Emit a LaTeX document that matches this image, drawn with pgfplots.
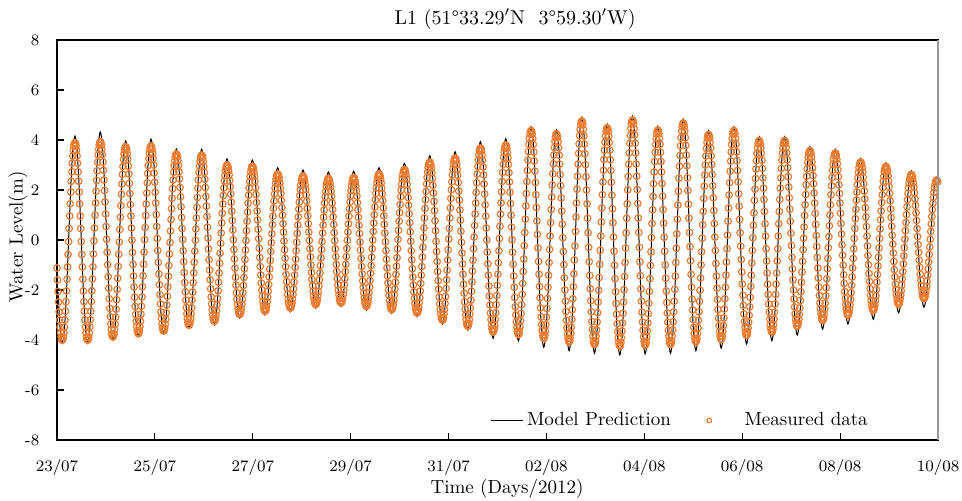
\documentclass[border=0pt]{standalone}
\usepackage{pgfplots}
\pgfplotsset{compat=1.18}
\definecolor{measured}{HTML}{ED7D31}
\begin{document}
\begin{tikzpicture}
\begin{axis}[
  name=ax, at={(0,0)}, anchor=south west,
  scale only axis, width=440.5pt, height=200pt,
  xmin=0, xmax=18, ymin=-8, ymax=8,
  xtick={0,2,...,18},
  xticklabels={23/07,25/07,27/07,29/07,31/07,02/08,04/08,06/08,08/08,10/08},
  ytick={-8,-6,...,8},
  yticklabels={-8,-6,-4,-2,0,2,4,6,8},
  tick align=inside, xtick pos=left, ytick pos=left,
  major tick length=3.5pt,
  tick style={black, line width=0.6pt},
  axis line style={line width=0.6pt},
  xticklabel style={font=\fontsize{8}{9}\selectfont, yshift=-6pt},
  yticklabel style={font=\fontsize{8}{9}\selectfont, xshift=-5.3pt},
  legend style={at={(0.932,0.049)}, anchor=east, draw=none, fill=none,
    font=\fontsize{9.5}{11}\selectfont,
    /tikz/every even column/.append style={column sep=16pt}},
  legend columns=2,
  legend cell align=left,
]
% model prediction, 6 samples per half tide
\addplot[black, line width=0.5pt, smooth,
  legend image code/.code={\draw[black, line width=0.5pt] (0pt,0pt) -- (15.7pt,0pt);}]
  table[header=false, x expr={(4*\coordindex+2)*0.010787}, y index=0] {
-2.09
-3.58
-4.13
-3.58
-2.06
0.02
2.09
3.61
4.16
3.61
2.09
0.02
-2.06
-3.58
-4.13
-3.56
-2.02
0.10
2.21
3.75
4.32
3.76
2.24
0.16
-1.92
-3.44
-4.00
-3.47
-2.01
-0.02
1.98
3.44
3.97
3.45
2.01
0.05
-1.91
-3.35
-3.87
-3.34
-1.89
0.09
2.06
3.51
4.04
3.52
2.09
0.14
-1.81
-3.24
-3.76
-3.26
-1.91
-0.06
1.79
3.14
3.64
3.16
1.85
0.06
-1.74
-3.05
-3.53
-3.05
-1.74
0.05
1.84
3.15
3.63
3.16
1.87
0.12
-1.64
-2.93
-3.40
-2.95
-1.74
-0.08
1.59
2.80
3.25
2.82
1.66
0.06
-1.54
-2.70
-3.13
-2.71
-1.55
0.04
1.62
2.78
3.20
2.79
1.65
0.10
-1.45
-2.59
-3.00
-2.61
-1.53
-0.06
1.42
2.50
2.89
2.50
1.45
0.01
-1.43
-2.48
-2.87
-2.49
-1.45
-0.04
1.38
2.42
2.80
2.43
1.42
0.04
-1.35
-2.36
-2.73
-2.37
-1.37
-0.01
1.36
2.36
2.72
2.36
1.37
0.03
-1.32
-2.31
-2.67
-2.31
-1.32
0.04
1.40
2.39
2.75
2.38
1.36
-0.03
-1.41
-2.43
-2.80
-2.42
-1.38
0.05
1.47
2.51
2.89
2.50
1.44
-0.02
-1.48
-2.54
-2.93
-2.53
-1.43
0.07
1.57
2.67
3.07
2.66
1.54
0.00
-1.54
-2.66
-3.07
-2.64
-1.46
0.15
1.76
2.94
3.37
2.92
1.69
0.01
-1.68
-2.91
-3.36
-2.90
-1.64
0.09
1.81
3.07
3.53
3.05
1.75
-0.04
-1.82
-3.12
-3.60
-3.10
-1.72
0.17
2.05
3.43
3.93
3.40
1.97
0.00
-1.97
-3.40
-3.93
-3.40
-1.94
0.06
2.06
3.52
4.05
3.51
2.03
0.01
-2.01
-3.49
-4.03
-3.46
-1.89
0.25
2.39
3.96
4.53
3.94
2.33
0.12
-2.09
-3.70
-4.29
-3.71
-2.12
0.06
2.23
3.82
4.40
3.81
2.19
-0.02
-2.22
-3.84
-4.43
-3.80
-2.10
0.24
2.58
4.28
4.91
4.28
2.55
0.19
-2.17
-3.90
-4.53
-3.92
-2.24
0.06
2.35
4.03
4.64
4.02
2.33
0.02
-2.29
-3.98
-4.60
-3.96
-2.21
0.18
2.56
4.31
4.95
4.31
2.57
0.20
-2.18
-3.92
-4.56
-3.95
-2.28
-0.01
2.27
3.94
4.55
3.94
2.28
0.01
-2.26
-3.92
-4.53
-3.90
-2.19
0.15
2.49
4.20
4.83
4.21
2.52
0.20
-2.12
-3.81
-4.43
-3.84
-2.23
-0.03
2.17
3.78
4.37
3.79
2.20
0.02
-2.16
-3.75
-4.33
-3.74
-2.12
0.10
2.32
3.94
4.53
3.95
2.36
0.19
-1.99
-3.58
-4.16
-3.61
-2.09
-0.02
2.06
3.58
4.13
3.58
2.09
0.05
-1.99
-3.48
-4.03
-3.48
-1.99
0.05
2.09
3.58
4.13
3.60
2.15
0.17
-1.82
-3.27
-3.80
-3.30
-1.92
-0.04
1.85
3.23
3.73
3.24
1.91
0.08
-1.75
-3.08
-3.57
-3.09
-1.77
0.03
1.83
3.15
3.63
3.16
1.88
0.14
-1.61
-2.89
-3.36
-2.92
-1.70
-0.05
1.61
2.83
3.27
2.84
1.66
0.05
-1.56
-2.74
-3.17
-2.75
-1.61
-0.04
1.53
2.67
3.09
2.69
1.59
0.09
-1.41
-2.51
-2.91
-2.53
-1.49
-0.07
1.35
2.39
2.77
2.40
1.41
0.04
-1.33
-2.32
-2.69
-2.34
-1.39
-0.10
1.20
2.15
2.50
2.17
};
\addlegendentry{Model Prediction}
% measured water level, 24 samples per half tide
\addplot[only marks, mark=o, mark size=1.65pt, color=measured, mark options={line width=0.6pt},
  legend image post style={mark size=1.15pt}]
  table[header=false, x expr={\coordindex*0.010787}, y index=0] {
-1.12
-1.60
-2.06
-2.48
-2.87
-3.20
-3.49
-3.71
-3.88
-3.98
-4.01
-3.98
-3.88
-3.71
-3.48
-3.19
-2.85
-2.47
-2.04
-1.57
-1.08
-0.58
-0.06
0.46
0.96
1.45
1.92
2.35
2.73
3.07
3.36
3.59
3.76
3.86
3.89
3.86
3.76
3.59
3.36
3.07
2.73
2.35
1.92
1.45
0.96
0.46
-0.06
-0.58
-1.08
-1.57
-2.04
-2.47
-2.85
-3.19
-3.48
-3.71
-3.88
-3.98
-4.01
-3.98
-3.88
-3.71
-3.48
-3.19
-2.85
-2.46
-2.03
-1.56
-1.07
-0.56
-0.04
0.48
0.99
1.48
1.95
2.38
2.77
3.11
3.40
3.63
3.80
3.90
3.93
3.90
3.80
3.63
3.41
3.12
2.79
2.40
1.98
1.52
1.04
0.54
0.03
-0.49
-0.99
-1.47
-1.93
-2.35
-2.74
-3.07
-3.36
-3.58
-3.75
-3.85
-3.88
-3.85
-3.75
-3.59
-3.37
-3.09
-2.77
-2.39
-1.98
-1.53
-1.06
-0.57
-0.08
0.42
0.91
1.38
1.83
2.24
2.62
2.94
3.22
3.44
3.60
3.70
3.73
3.70
3.60
3.45
3.23
2.96
2.64
2.27
1.86
1.42
0.96
0.48
-0.01
-0.50
-0.98
-1.44
-1.88
-2.29
-2.66
-2.98
-3.25
-3.47
-3.62
-3.72
-3.75
-3.72
-3.62
-3.46
-3.25
-2.97
-2.65
-2.28
-1.87
-1.43
-0.97
-0.49
0.01
0.50
0.98
1.44
1.88
2.29
2.66
2.98
3.26
3.47
3.63
3.73
3.76
3.73
3.63
3.48
3.26
3.00
2.68
2.31
1.91
1.48
1.02
0.54
0.06
-0.42
-0.90
-1.36
-1.79
-2.19
-2.56
-2.88
-3.14
-3.36
-3.51
-3.61
-3.64
-3.61
-3.52
-3.37
-3.17
-2.91
-2.60
-2.25
-1.87
-1.45
-1.02
-0.56
-0.10
0.36
0.82
1.25
1.67
2.06
2.40
2.71
2.97
3.17
3.32
3.41
3.44
3.41
3.32
3.18
2.98
2.73
2.44
2.10
1.73
1.33
0.90
0.46
0.02
-0.43
-0.87
-1.30
-1.70
-2.07
-2.41
-2.70
-2.95
-3.15
-3.29
-3.38
-3.41
-3.38
-3.29
-3.15
-2.95
-2.71
-2.41
-2.08
-1.71
-1.31
-0.89
-0.45
-0.01
0.44
0.88
1.30
1.70
2.07
2.40
2.70
2.94
3.14
3.28
3.37
3.40
3.37
3.29
3.15
2.95
2.71
2.43
2.10
1.74
1.35
0.94
0.51
0.08
-0.36
-0.79
-1.20
-1.59
-1.95
-2.28
-2.56
-2.80
-3.00
-3.14
-3.22
-3.25
-3.22
-3.14
-3.01
-2.83
-2.60
-2.34
-2.03
-1.69
-1.32
-0.93
-0.53
-0.13
0.28
0.68
1.07
1.44
1.78
2.09
2.36
2.58
2.76
2.89
2.97
3.00
2.97
2.90
2.77
2.60
2.38
2.13
1.83
1.51
1.15
0.78
0.40
0.01
-0.38
-0.76
-1.13
-1.49
-1.81
-2.11
-2.36
-2.58
-2.75
-2.88
-2.95
-2.98
-2.96
-2.88
-2.75
-2.58
-2.37
-2.11
-1.82
-1.50
-1.15
-0.78
-0.40
-0.02
0.37
0.75
1.12
1.47
1.79
2.08
2.34
2.55
2.72
2.85
2.93
2.95
2.93
2.85
2.73
2.56
2.35
2.10
1.82
1.50
1.16
0.80
0.43
0.05
-0.33
-0.70
-1.06
-1.40
-1.72
-2.00
-2.25
-2.46
-2.63
-2.75
-2.83
-2.85
-2.83
-2.76
-2.64
-2.48
-2.28
-2.05
-1.78
-1.48
-1.16
-0.82
-0.46
-0.11
0.25
0.61
0.95
1.27
1.57
1.84
2.07
2.27
2.43
2.55
2.62
2.64
2.62
2.55
2.44
2.28
2.09
1.86
1.59
1.30
0.99
0.65
0.31
-0.04
-0.39
-0.73
-1.07
-1.38
-1.67
-1.94
-2.17
-2.36
-2.52
-2.63
-2.70
-2.72
-2.70
-2.63
-2.52
-2.37
-2.18
-1.95
-1.69
-1.40
-1.09
-0.77
-0.43
-0.09
0.26
0.60
0.92
1.23
1.52
1.78
2.01
2.20
2.35
2.46
2.53
2.55
2.53
2.46
2.35
2.21
2.02
1.80
1.55
1.27
0.97
0.65
0.32
-0.02
-0.35
-0.68
-1.00
-1.30
-1.58
-1.83
-2.05
-2.24
-2.39
-2.49
-2.56
-2.58
-2.56
-2.49
-2.39
-2.24
-2.06
-1.84
-1.59
-1.32
-1.02
-0.71
-0.39
-0.06
0.28
0.60
0.91
1.21
1.48
1.73
1.95
2.13
2.28
2.38
2.45
2.47
2.45
2.39
2.28
2.14
1.96
1.74
1.49
1.22
0.93
0.62
0.30
-0.03
-0.35
-0.67
-0.98
-1.27
-1.54
-1.79
-2.01
-2.19
-2.33
-2.44
-2.50
-2.52
-2.50
-2.44
-2.33
-2.18
-2.00
-1.79
-1.54
-1.27
-0.97
-0.66
-0.34
-0.01
0.32
0.64
0.95
1.25
1.52
1.77
1.98
2.16
2.31
2.42
2.48
2.50
2.48
2.41
2.30
2.16
1.97
1.75
1.49
1.21
0.91
0.59
0.26
-0.08
-0.41
-0.74
-1.06
-1.36
-1.64
-1.90
-2.12
-2.31
-2.45
-2.56
-2.63
-2.65
-2.63
-2.56
-2.45
-2.30
-2.10
-1.88
-1.62
-1.33
-1.02
-0.69
-0.35
0.00
0.34
0.68
1.01
1.32
1.61
1.87
2.09
2.29
2.44
2.55
2.62
2.64
2.62
2.55
2.43
2.28
2.08
1.85
1.58
1.29
0.97
0.63
0.28
-0.07
-0.42
-0.77
-1.11
-1.43
-1.72
-1.99
-2.22
-2.42
-2.57
-2.69
-2.76
-2.78
-2.76
-2.69
-2.57
-2.41
-2.20
-1.96
-1.69
-1.38
-1.05
-0.71
-0.35
0.02
0.39
0.75
1.09
1.42
1.73
2.00
2.24
2.45
2.61
2.73
2.80
2.82
2.80
2.72
2.60
2.44
2.23
1.98
1.70
1.39
1.05
0.69
0.33
-0.05
-0.43
-0.79
-1.15
-1.49
-1.80
-2.08
-2.33
-2.54
-2.70
-2.82
-2.90
-2.92
-2.89
-2.82
-2.69
-2.52
-2.30
-2.04
-1.74
-1.41
-1.06
-0.68
-0.29
0.10
0.49
0.88
1.26
1.61
1.94
2.24
2.50
2.72
2.89
3.02
3.09
3.12
3.09
3.01
2.88
2.70
2.47
2.19
1.88
1.54
1.17
0.77
0.37
-0.05
-0.46
-0.86
-1.26
-1.63
-1.97
-2.28
-2.56
-2.79
-2.97
-3.10
-3.18
-3.21
-3.18
-3.10
-2.96
-2.78
-2.54
-2.26
-1.94
-1.59
-1.21
-0.80
-0.39
0.04
0.46
0.88
1.28
1.66
2.01
2.33
2.61
2.85
3.03
3.17
3.25
3.28
3.25
3.17
3.02
2.83
2.59
2.30
1.96
1.60
1.20
0.79
0.35
-0.09
-0.52
-0.96
-1.37
-1.77
-2.13
-2.47
-2.76
-3.00
-3.19
-3.34
-3.42
-3.45
-3.42
-3.33
-3.18
-2.97
-2.71
-2.41
-2.05
-1.67
-1.25
-0.81
-0.35
0.12
0.58
1.04
1.48
1.90
2.29
2.64
2.94
3.20
3.41
3.56
3.65
3.68
3.65
3.56
3.40
3.19
2.92
2.60
2.24
1.84
1.41
0.95
0.48
0.00
-0.48
-0.95
-1.41
-1.84
-2.24
-2.60
-2.92
-3.19
-3.40
-3.56
-3.65
-3.68
-3.65
-3.55
-3.40
-3.18
-2.91
-2.59
-2.22
-1.81
-1.37
-0.91
-0.43
0.06
0.55
1.03
1.49
1.93
2.34
2.71
3.03
3.30
3.52
3.67
3.77
3.80
3.77
3.67
3.51
3.29
3.02
2.69
2.32
1.91
1.46
0.99
0.51
0.01
-0.49
-0.97
-1.44
-1.89
-2.30
-2.67
-3.00
-3.27
-3.49
-3.65
-3.75
-3.78
-3.75
-3.64
-3.47
-3.23
-2.94
-2.59
-2.18
-1.74
-1.26
-0.76
-0.23
0.30
0.83
1.36
1.86
2.34
2.78
3.19
3.54
3.83
4.07
4.24
4.35
4.38
4.34
4.24
4.06
3.82
3.52
3.16
2.75
2.30
1.81
1.30
0.76
0.22
-0.32
-0.86
-1.37
-1.86
-2.31
-2.72
-3.08
-3.38
-3.62
-3.80
-3.90
-3.94
-3.91
-3.80
-3.63
-3.39
-3.09
-2.74
-2.34
-1.89
-1.41
-0.90
-0.38
0.16
0.69
1.22
1.72
2.20
2.65
3.05
3.40
3.70
3.94
4.11
4.22
4.25
4.21
4.11
3.93
3.69
3.39
3.03
2.62
2.17
1.68
1.16
0.63
0.09
-0.46
-0.99
-1.51
-2.00
-2.45
-2.86
-3.22
-3.52
-3.76
-3.94
-4.04
-4.08
-4.04
-3.93
-3.74
-3.49
-3.17
-2.79
-2.35
-1.87
-1.35
-0.80
-0.24
0.34
0.92
1.48
2.03
2.55
3.03
3.47
3.85
4.17
4.42
4.61
4.72
4.76
4.72
4.61
4.42
4.16
3.84
3.45
3.01
2.53
2.00
1.45
0.87
0.29
-0.29
-0.87
-1.42
-1.95
-2.43
-2.87
-3.26
-3.58
-3.84
-4.03
-4.14
-4.18
-4.14
-4.03
-3.85
-3.60
-3.28
-2.91
-2.48
-2.01
-1.50
-0.97
-0.41
0.16
0.72
1.28
1.81
2.32
2.79
3.22
3.59
3.91
4.16
4.34
4.45
4.49
4.45
4.34
4.16
3.90
3.59
3.21
2.78
2.31
1.79
1.25
0.69
0.12
-0.45
-1.01
-1.55
-2.07
-2.54
-2.97
-3.35
-3.66
-3.92
-4.10
-4.21
-4.25
-4.21
-4.10
-3.91
-3.64
-3.32
-2.93
-2.48
-1.99
-1.46
-0.90
-0.32
0.28
0.87
1.45
2.01
2.54
3.03
3.48
3.87
4.19
4.46
4.65
4.76
4.80
4.76
4.65
4.46
4.20
3.87
3.48
3.04
2.55
2.02
1.46
0.88
0.30
-0.29
-0.87
-1.43
-1.96
-2.45
-2.89
-3.28
-3.61
-3.87
-4.06
-4.17
-4.21
-4.17
-4.06
-3.88
-3.63
-3.32
-2.95
-2.53
-2.06
-1.55
-1.02
-0.47
0.10
0.66
1.21
1.74
2.25
2.72
3.14
3.51
3.82
4.07
4.25
4.36
4.40
4.36
4.25
4.07
3.83
3.51
3.14
2.72
2.26
1.75
1.22
0.67
0.11
-0.45
-1.00
-1.53
-2.04
-2.50
-2.92
-3.29
-3.61
-3.85
-4.03
-4.14
-4.18
-4.14
-4.03
-3.84
-3.59
-3.27
-2.88
-2.45
-1.97
-1.45
-0.90
-0.33
0.25
0.83
1.40
1.95
2.47
2.95
3.38
3.77
4.09
4.34
4.53
4.64
4.68
4.64
4.53
4.35
4.09
3.78
3.40
2.97
2.49
1.98
1.43
0.87
0.30
-0.27
-0.83
-1.38
-1.89
-2.37
-2.80
-3.18
-3.49
-3.75
-3.93
-4.04
-4.08
-4.04
-3.94
-3.76
-3.52
-3.22
-2.87
-2.46
-2.01
-1.52
-1.00
-0.47
0.07
0.61
1.14
1.66
2.15
2.60
3.00
3.36
3.66
3.90
4.08
4.18
4.22
4.18
4.08
3.91
3.67
3.37
3.02
2.62
2.17
1.69
1.18
0.66
0.12
-0.42
-0.94
-1.45
-1.93
-2.38
-2.78
-3.13
-3.43
-3.67
-3.84
-3.95
-3.98
-3.94
-3.84
-3.66
-3.42
-3.12
-2.76
-2.35
-1.89
-1.40
-0.88
-0.35
0.20
0.75
1.28
1.80
2.29
2.75
3.16
3.52
3.82
4.06
4.24
4.34
4.38
4.35
4.24
4.07
3.83
3.53
3.18
2.78
2.33
1.85
1.35
0.82
0.29
-0.25
-0.78
-1.28
-1.76
-2.21
-2.61
-2.96
-3.26
-3.50
-3.67
-3.78
-3.81
-3.78
-3.68
-3.51
-3.29
-3.01
-2.67
-2.29
-1.86
-1.41
-0.92
-0.42
0.09
0.59
1.09
1.58
2.03
2.46
2.84
3.18
3.46
3.68
3.85
3.95
3.98
3.95
3.85
3.69
3.47
3.19
2.86
2.48
2.07
1.62
1.14
0.65
0.15
-0.35
-0.84
-1.32
-1.77
-2.18
-2.56
-2.89
-3.17
-3.39
-3.55
-3.65
-3.68
-3.65
-3.55
-3.39
-3.17
-2.89
-2.56
-2.18
-1.77
-1.32
-0.84
-0.35
0.15
0.65
1.14
1.62
2.07
2.48
2.86
3.19
3.47
3.69
3.85
3.95
3.98
3.95
3.85
3.70
3.48
3.21
2.89
2.53
2.12
1.69
1.23
0.75
0.27
-0.22
-0.70
-1.16
-1.59
-2.00
-2.36
-2.68
-2.95
-3.17
-3.32
-3.42
-3.45
-3.42
-3.33
-3.18
-2.98
-2.72
-2.42
-2.07
-1.69
-1.28
-0.85
-0.39
0.07
0.52
0.98
1.41
1.82
2.21
2.55
2.85
3.11
3.31
3.46
3.55
3.58
3.55
3.46
3.32
3.12
2.88
2.58
2.25
1.88
1.48
1.06
0.62
0.18
-0.26
-0.70
-1.12
-1.52
-1.89
-2.22
-2.52
-2.76
-2.96
-3.10
-3.19
-3.22
-3.19
-3.11
-2.97
-2.77
-2.53
-2.24
-1.91
-1.55
-1.15
-0.74
-0.31
0.13
0.57
1.00
1.41
1.81
2.17
2.50
2.79
3.03
3.23
3.37
3.45
3.48
3.45
3.37
3.23
3.05
2.81
2.53
2.21
1.86
1.48
1.07
0.66
0.24
-0.19
-0.61
-1.01
-1.39
-1.74
-2.06
-2.34
-2.58
-2.76
-2.90
-2.98
-3.01
-2.98
-2.91
-2.78
-2.60
-2.38
-2.11
-1.81
-1.48
-1.12
-0.74
-0.35
0.06
0.46
0.85
1.23
1.59
1.92
2.22
2.49
2.71
2.89
3.02
3.09
3.12
3.09
3.02
2.89
2.72
2.51
2.25
1.96
1.64
1.29
0.92
0.54
0.15
-0.24
-0.62
-0.99
-1.34
-1.66
-1.95
-2.21
-2.42
-2.59
-2.72
-2.79
-2.82
-2.80
-2.72
-2.60
-2.43
-2.23
-1.98
-1.69
-1.38
-1.04
-0.69
-0.32
0.06
0.44
0.81
1.16
1.50
1.81
2.10
2.35
2.55
2.72
2.84
2.92
2.94
2.92
2.85
2.73
2.57
2.37
2.14
1.86
1.57
1.24
0.90
0.55
0.19
-0.17
-0.52
-0.86
-1.19
-1.48
-1.76
-1.99
-2.19
-2.35
-2.47
-2.54
-2.56
-2.54
-2.47
-2.36
-2.21
-2.03
-1.80
-1.55
-1.27
-0.96
-0.64
-0.31
0.03
0.37
0.70
1.02
1.33
1.61
1.86
2.09
2.27
2.42
2.53
2.60
2.62
2.60
2.54
2.43
2.29
2.11
1.89
1.65
1.38
1.09
0.78
0.46
0.14
-0.18
-0.50
-0.81
-1.10
-1.37
-1.61
-1.83
-2.01
-2.15
-2.26
-2.32
-2.34
-2.32
-2.26
-2.16
-2.02
-1.85
-1.65
-1.41
-1.16
-0.88
-0.58
-0.28
0.03
0.34
0.64
0.94
1.22
1.47
1.71
1.91
2.08
2.22
2.32
2.38
2.40
2.38
2.32
};
\addlegendentry{\hspace{14.5pt}Measured data}
\end{axis}
\draw[gray!80, line width=0.8pt] (ax.south east) -- (ax.north east);
\node[font=\fontsize{10}{12}\selectfont] at ([xshift=8.8pt, yshift=10.5pt]ax.north) {L1 (51\textdegree33.29$'$N~~3\textdegree59.30$'$W)};
\node[rotate=90, font=\fontsize{9.5}{11}\selectfont] at ([xshift=-19.5pt, yshift=1.5pt]ax.west) {Water Level(m)};
\node[font=\fontsize{9.5}{11}\selectfont] at ([xshift=4.8pt, yshift=-24.5pt]ax.south) {Time (Days/2012)};
\pgfresetboundingbox
\path[use as bounding box] (-28.5pt,-30.5pt) rectangle (452.5pt,220pt);
\end{tikzpicture}
\end{document}
